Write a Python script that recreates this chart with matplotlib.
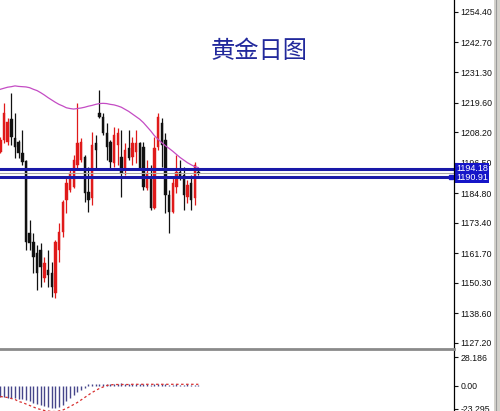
import matplotlib
matplotlib.use("Agg")
import matplotlib.pyplot as plt
from matplotlib.lines import Line2D
from matplotlib.patches import Rectangle
from matplotlib.transforms import blended_transform_factory
import numpy as np

# ---------------- data ----------------
title = "黄金日图"
opens = [1200.7, 1205.2, 1204.6, 1213.2, 1205.9, 1204.6, 1200.1, 1197.3, 1169.4, 1166.1,
         1161.7, 1162.9, 1152.1, 1155.3, 1154.0, 1146.3, 1162.9, 1170.0, 1182.2, 1186.0,
         1187.3, 1195.6, 1197.5, 1198.8, 1185.4, 1182.8, 1203.9, 1215.5, 1214.2, 1207.8,
         1204.6, 1196.3, 1203.3, 1198.8, 1193.7, 1202.0, 1198.8, 1200.7, 1203.9, 1202.7,
         1186.6, 1191.1, 1179.0, 1202.7, 1211.6, 1205.2, 1184.1, 1177.7, 1187.3, 1193.0,
         1191.8, 1183.4, 1188.6, 1182.8, 1192.8]
highs = [1206.5, 1219.6, 1213.5, 1223.2, 1215.5, 1205.2, 1209.1, 1197.5, 1174.5, 1169.4,
         1164.9, 1165.5, 1160.4, 1162.9, 1158.5, 1166.8, 1173.2, 1182.2, 1191.1, 1194.3,
         1199.5, 1219.3, 1205.9, 1199.5, 1195.0, 1208.4, 1207.1, 1224.4, 1215.5, 1211.6,
         1205.2, 1210.3, 1209.7, 1209.1, 1203.9, 1209.1, 1206.5, 1209.1, 1204.6, 1204.6,
         1197.5, 1195.6, 1206.5, 1215.5, 1213.5, 1207.8, 1186.0, 1191.1, 1199.5, 1197.5,
         1195.0, 1189.8, 1191.8, 1196.9, 1193.7]
lows = [1200.1, 1203.9, 1203.3, 1203.3, 1198.2, 1198.2, 1195.6, 1162.9, 1162.9, 1154.0,
        1147.6, 1148.9, 1150.8, 1148.9, 1145.0, 1144.4, 1158.5, 1168.1, 1177.0, 1185.4,
        1186.6, 1193.7, 1196.9, 1181.5, 1177.7, 1180.2, 1193.7, 1213.5, 1207.1, 1197.5,
        1194.3, 1195.0, 1195.6, 1183.4, 1191.8, 1197.5, 1195.6, 1196.3, 1193.7, 1186.0,
        1186.0, 1178.3, 1178.5, 1201.4, 1195.0, 1177.0, 1169.4, 1177.0, 1184.7, 1189.8,
        1178.3, 1180.9, 1178.3, 1180.2, 1191.8]
closes = [1205.2, 1215.5, 1212.3, 1206.2, 1202.7, 1200.1, 1196.9, 1166.1, 1165.5, 1160.4,
          1154.0, 1156.5, 1157.8, 1153.3, 1148.9, 1166.1, 1170.0, 1181.5, 1188.6, 1192.4,
          1197.5, 1203.9, 1204.6, 1184.7, 1182.2, 1203.3, 1201.4, 1214.2, 1207.8, 1202.7,
          1196.9, 1207.1, 1207.8, 1192.4, 1201.4, 1198.2, 1203.9, 1203.9, 1194.3, 1187.3,
          1192.4, 1179.0, 1202.0, 1214.2, 1203.3, 1184.1, 1177.7, 1188.6, 1193.0, 1191.1,
          1184.1, 1187.9, 1182.2, 1195.6, 1192.4]
ma = [1224.7, 1225.1, 1225.5, 1225.7, 1226.0, 1225.8, 1225.7, 1225.6, 1225.3, 1224.7,
      1224.2, 1223.4, 1222.5, 1221.5, 1220.6, 1219.7, 1218.9, 1218.3, 1217.6, 1217.3,
      1217.1, 1217.3, 1217.5, 1217.8, 1218.2, 1218.5, 1218.9, 1219.2, 1219.3, 1219.2,
      1218.9, 1218.7, 1218.3, 1217.8, 1217.0, 1216.2, 1215.2, 1214.2, 1213.2, 1211.9,
      1210.3, 1208.7, 1206.9, 1205.5, 1204.2, 1203.0, 1202.0, 1200.9, 1199.7, 1198.5,
      1197.5, 1196.5, 1195.7, 1195.0, 1194.6]
macd_hist = [-11, -11, -12, -12, -12, -13, -13, -14, -15, -17,
             -18, -19, -20, -21, -22, -22, -21, -19, -15, -12,
             -9, -6, -4, -2, 1.5, 1.5, 2, 2, 1.5, 2,
             2, 1.5, 2, 2.5, 2, 1.5, 2, 1.5, 2, 1.5,
             1.5, 1, 1.5, 2, 2, 1.5, 1, 1, 1.5, 1,
             1, 1.5, 1, 1, 1]
macd_signal = [-11, -11.5, -12, -13, -14, -16, -17, -18.5, -20, -21.5,
               -23, -24, -25, -25.5, -26, -26, -25.5, -24.5, -23, -21,
               -19, -17, -14.5, -12, -9.5, -7, -5, -3, -1.5, 0,
               0.5, 1, 1, 1, 1, 1, 1.2, 1.2, 1.2, 1.2,
               1.2, 1.2, 1.2, 1.2, 1.2, 1.2, 1.2, 1.2, 1.2, 1.2,
               1.2, 1.2, 1.2, 1.2, 1.2]
levels = [1194.18, 1190.91]
price_ticks = [1254.40, 1242.70, 1231.30, 1219.60, 1208.20, 1196.50,
               1184.80, 1173.40, 1161.70, 1150.30, 1138.60, 1127.20]
macd_ticks = [28.186, 0.0, -23.295]
macd_tick_labels = ["28.186", "0.00", "-23.295"]

# ---------------- figure ----------------
W, H = 500, 411
fig = plt.figure(figsize=(W / 100, H / 100), dpi=100)
fig.patch.set_facecolor("white")

AX_RIGHT = 454
MAIN_BOTTOM = 348
SUB_TOP = 350

ax = fig.add_axes([0, (H - MAIN_BOTTOM) / H, AX_RIGHT / W, MAIN_BOTTOM / H])
ax2 = fig.add_axes([0, 0, AX_RIGHT / W, (H - SUB_TOP) / H])

n = len(closes)
idx = np.arange(n)
o = np.array(opens); c = np.array(closes); hi = np.array(highs); lo = np.array(lows)
up = c >= o
RED = "#e01a1a"
BLK = "#111111"
cols = [RED if u else BLK for u in up]

ax.vlines(idx, lo, hi, colors=cols, lw=0.9, zorder=3)
ax.bar(idx, np.abs(c - o), bottom=np.minimum(o, c), width=0.64, color=cols,
       edgecolor=cols, lw=0.3, zorder=3)
ax.plot(idx, ma, color="#c44cc4", lw=0.9, zorder=4)

BLUE = "#1818a8"
for lv in levels:
    ax.axhline(lv, color=BLUE, lw=2.2, zorder=5)
ax.axhline(closes[-1], color="#a8a8a8", lw=0.8, zorder=4.5)

ax.set_xlim(-0.09, 123.7)
ax.set_ylim(1125.27, 1259.01)
ax.set_facecolor("white")
for s in ax.spines.values():
    s.set_visible(False)
ax.set_xticks([])
ax.yaxis.tick_right()
ax.set_yticks(price_ticks)
ax.set_yticklabels([f"{t:.2f}" for t in price_ticks])
ax.tick_params(axis="y", direction="out", length=3, width=0.8, pad=1.5,
               labelsize=6.3, colors="#111111")
for lab in ax.get_yticklabels():
    lab.set_fontfamily("Liberation Sans")

ax.text(0.571, 1.0 - 51 / MAIN_BOTTOM, title, transform=ax.transAxes,
        ha="center", va="center", fontsize=17.5, color="#22299c",
        family=["Noto Sans CJK SC", "DejaVu Sans"], fontweight="light")

# price label boxes
tr = blended_transform_factory(ax.transAxes, ax.transData)
for lv in levels:
    ax.text(1.005, lv, f"{lv:.2f}", transform=tr, ha="left", va="center",
            fontsize=6.5, color="white", family="Liberation Sans", zorder=10,
            clip_on=False,
            bbox=dict(boxstyle="square,pad=0.1", fc="#1616c8", ec="none"))
ax.plot([0.9935], [levels[1]], transform=tr, marker="s", ms=3.2, color="#1616c8",
        clip_on=False, zorder=10)

# ---------------- MACD panel ----------------
ax2.vlines(idx, 0, macd_hist, colors="#46468a", lw=1.0, zorder=3)
ax2.plot(idx, macd_signal, color="#d83030", lw=0.9, ls=(0, (2, 2)), zorder=4)
ax2.set_xlim(-0.09, 123.7)
ax2.set_ylim(-25.5, 35.5)
for s in ax2.spines.values():
    s.set_visible(False)
ax2.set_xticks([])
ax2.yaxis.tick_right()
ax2.set_yticks(macd_ticks)
ax2.set_yticklabels(macd_tick_labels)
ax2.tick_params(axis="y", direction="out", length=3, width=0.8, pad=1.5,
                labelsize=6.3, colors="#111111")
for lab in ax2.get_yticklabels():
    lab.set_fontfamily("Liberation Sans")

# ---------------- frame pieces ----------------
fig.add_artist(Line2D([AX_RIGHT / W, AX_RIGHT / W], [0, 1], color="black", lw=0.9,
                      transform=fig.transFigure))
fig.add_artist(Line2D([0, AX_RIGHT / W], [(H - 349) / H] * 2, color="#8a8a8a", lw=2.0,
                      transform=fig.transFigure))
fig.add_artist(Rectangle((494 / W, 0), 6 / W, 1, transform=fig.transFigure,
                         facecolor="#d4d2cc", edgecolor="none"))
fig.add_artist(Line2D([495.5 / W, 495.5 / W], [0, 1], color="#9a9a9a", lw=0.8,
                      transform=fig.transFigure))

fig.savefig("out.png", dpi=100)
